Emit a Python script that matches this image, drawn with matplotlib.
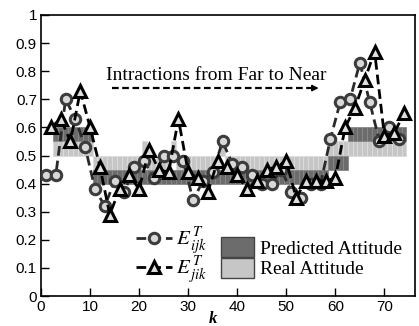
import numpy as np
import matplotlib
matplotlib.use('Agg')
import matplotlib.pyplot as plt
from matplotlib.patches import Patch
from matplotlib.lines import Line2D

plt.rcParams['mathtext.fontset'] = 'stix'

# data
k_ijk = [1, 3, 5, 7, 9, 11, 13, 15, 17, 19, 21, 23, 25, 27, 29, 31, 33, 35, 37,
         39, 41, 43, 45, 47, 49, 51, 53, 55, 57, 59, 61, 63, 65, 67, 69, 71, 73]
e_ijk = [0.43, 0.43, 0.70, 0.63, 0.53, 0.38, 0.32, 0.41, 0.37, 0.46, 0.48, 0.42,
         0.50, 0.50, 0.48, 0.34, 0.41, 0.44, 0.55, 0.47, 0.46, 0.43, 0.40, 0.40,
         0.45, 0.37, 0.35, 0.40, 0.40, 0.56, 0.69, 0.70, 0.83, 0.69, 0.55, 0.60, 0.56]

k_jik = [2, 4, 6, 8, 10, 12, 14, 16, 18, 20, 22, 24, 26, 28, 30, 32, 34, 36, 38,
         40, 42, 44, 46, 48, 50, 52, 54, 56, 58, 60, 62, 64, 66, 68, 70, 72, 74]
e_jik = [0.60, 0.63, 0.55, 0.73, 0.60, 0.46, 0.29, 0.38, 0.43, 0.38, 0.52, 0.45,
         0.44, 0.63, 0.44, 0.42, 0.37, 0.48, 0.46, 0.43, 0.38, 0.41, 0.45, 0.46,
         0.48, 0.35, 0.41, 0.41, 0.41, 0.42, 0.60, 0.67, 0.77, 0.87, 0.57, 0.58, 0.65]

# attitude bands (bottom of each 0.05 band), k = 3..74
k_att = list(range(3, 75))
real_att = [0.50, 0.50, 0.50, 0.50, 0.50, 0.50, 0.50, 0.50,
            0.45, 0.45, 0.45, 0.45, 0.45, 0.45, 0.45, 0.45, 0.45, 0.45,
            0.50, 0.45, 0.45, 0.45, 0.45, 0.45, 0.50, 0.45, 0.45, 0.45,
            0.45, 0.45, 0.45, 0.45, 0.45, 0.45, 0.50, 0.45, 0.45, 0.45,
            0.45, 0.45, 0.45, 0.45, 0.45, 0.45, 0.45, 0.45, 0.45, 0.45,
            0.45, 0.45, 0.45, 0.45, 0.45, 0.45, 0.45, 0.45,
            0.50, 0.50, 0.50, 0.50, 0.50, 0.50, 0.50, 0.50,
            0.50, 0.50, 0.50, 0.50, 0.50, 0.50, 0.50, 0.50]
pred_att = [0.55, 0.55, 0.55, 0.55, 0.55, 0.55, 0.55, 0.55,
            0.40, 0.40, 0.40, 0.40, 0.40, 0.40, 0.40, 0.40, 0.40, 0.40,
            0.40, 0.40, 0.40, 0.40, 0.40, 0.40, 0.40, 0.40, 0.40, 0.40,
            0.40, 0.40, 0.40, 0.40, 0.40, 0.40, 0.40, 0.40, 0.40, 0.40,
            0.40, 0.40, 0.40, 0.40, 0.40, 0.40, 0.40, 0.40, 0.40, 0.40,
            0.40, 0.40, 0.40, 0.40, 0.40, 0.40, 0.40, 0.40,
            0.45, 0.45, 0.45, 0.45, 0.55, 0.55, 0.55, 0.55,
            0.55, 0.55, 0.55, 0.55, 0.55, 0.55, 0.55, 0.55]

fig = plt.figure(figsize=(4.19, 3.26), dpi=100)
ax = fig.add_axes([0.098, 0.092, 0.892, 0.862])

# bands drawn as thin bars so they get the striped look
ax.bar(k_att, [0.05] * len(k_att), bottom=real_att, width=1.0,
       color='#c6c6c6', edgecolor='#dcdcdc', linewidth=0.6, zorder=1)
ax.bar(k_att, [0.05] * len(k_att), bottom=pred_att, width=1.0,
       color='#6c6c6c', edgecolor='#888888', linewidth=0.6, zorder=1)

ax.plot(k_ijk, e_ijk, linestyle='--', dashes=(3.5, 1.8), color='#2a2a2a', lw=2,
        marker='o', ms=7.5, mfc='#d8d8d8', mec='#3c3c3c', mew=2.2, zorder=3)
ax.plot(k_jik, e_jik, linestyle='--', dashes=(3.5, 1.8), color='black', lw=2,
        marker='^', ms=8.5, mfc='#e0e0e0', mec='black', mew=2.2, zorder=4)

# annotation with dashed arrow
ax.text(13.2, 0.785, 'Intractions from Far to Near', family='Liberation Serif',
        fontsize=14, va='center', ha='left')
ax.plot([14.5, 55.0], [0.74, 0.74], linestyle='--', dashes=(3, 1.6), color='black', lw=1.6)
ax.annotate('', xy=(56.6, 0.74), xytext=(54.5, 0.74),
            arrowprops=dict(arrowstyle='-|>', color='black', lw=1.2,
                            mutation_scale=9, shrinkA=0, shrinkB=0))

ax.set_xlim(0, 76.2)
ax.set_ylim(0, 1)
ax.set_xticks([0, 10, 20, 30, 40, 50, 60, 70])
ax.set_yticks(np.arange(0, 1.01, 0.1))
ax.set_yticklabels(['0', '0.1', '0.2', '0.3', '0.4', '0.5', '0.6', '0.7', '0.8', '0.9', '1'])
ax.tick_params(direction='in', length=6, width=1, labelsize=11, pad=3)
for lab in ax.get_xticklabels() + ax.get_yticklabels():
    lab.set_family('Liberation Sans')
for s in ax.spines.values():
    s.set_linewidth(1.2)
ax.set_xlabel('k', family='Liberation Serif', style='italic', weight='bold',
              fontsize=12)
ax.xaxis.set_label_coords(0.46, -0.052)

h1 = Line2D([], [], linestyle='--', dashes=(3.5, 1.8), color='#2a2a2a', lw=2,
            marker='o', ms=7.5, mfc='#d8d8d8', mec='#3c3c3c', mew=2.2)
h2 = Line2D([], [], linestyle='--', dashes=(3.5, 1.8), color='black', lw=2,
            marker='^', ms=8.5, mfc='#e0e0e0', mec='black', mew=2.2)
leg1 = ax.legend([h1, h2], [r'$E^{\,T}_{\,ijk}$', r'$E^{\,T}_{\,jik}$'],
                 loc='lower left', bbox_to_anchor=(0.205, -0.03), frameon=False,
                 fontsize=15, handlelength=1.7, handletextpad=0.2, labelspacing=-0.1)
ax.add_artist(leg1)
p1 = Patch(facecolor='#6c6c6c', edgecolor='#444444', lw=1)
p2 = Patch(facecolor='#c6c6c6', edgecolor='#444444', lw=1)
ax.legend([p1, p2], ['Predicted Attitude', 'Real Attitude'],
          loc='lower left', bbox_to_anchor=(0.445, 0.015), frameon=False,
          prop={'family': 'Liberation Serif', 'size': 14},
          handlelength=1.7, handleheight=1.2, handletextpad=0.3, labelspacing=0.0,
          borderpad=0.2)

plt.savefig('out.png', dpi=100)
